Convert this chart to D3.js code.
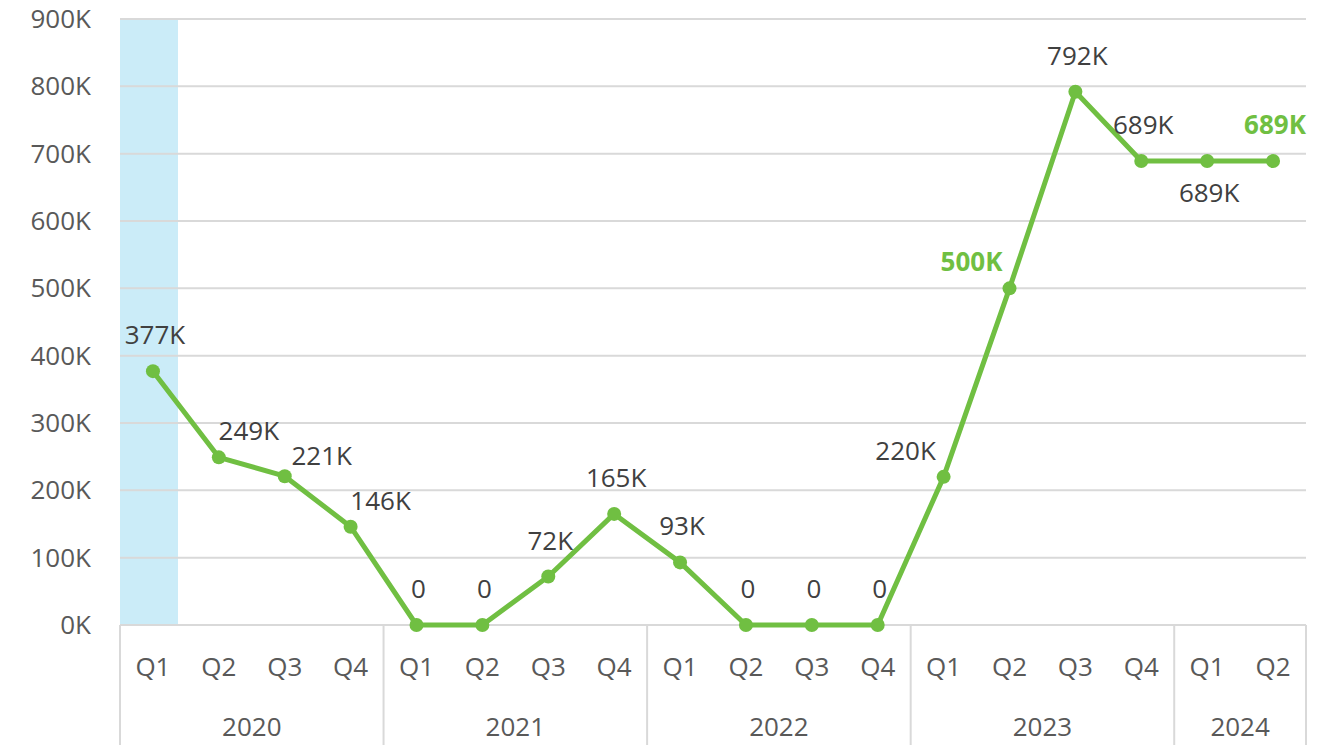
<!DOCTYPE html>
<html>
<head>
<meta charset="utf-8">
<script src="https://cdn.jsdelivr.net/npm/d3@7"></script>
<style>
  body { margin: 0; background: #fff; }
  text { font-family: "Open Sans", sans-serif; }
</style>
</head>
<body>
<div id="app"></div>
<script>
const years = ["2020", "2021", "2022", "2023", "2024"]
const quarters = ["Q1","Q2","Q3","Q4","Q1","Q2","Q3","Q4","Q1","Q2","Q3","Q4","Q1","Q2","Q3","Q4","Q1","Q2"]
const yearOf = [0,0,0,0,1,1,1,1,2,2,2,2,3,3,3,3,4,4]
const values = [377, 249, 221, 146, 0, 0, 72, 165, 93, 0, 0, 0, 220, 500, 792, 689, 689, 689]
const labels = ["377K","249K","221K","146K","0","0","72K","165K","93K","0","0","0","220K","500K","792K","689K","689K","689K"]
const boldLabels = [13, 17]
const yTicks = [0, 100, 200, 300, 400, 500, 600, 700, 800, 900]

// where each data label sits relative to its point
const labelPos = ["above","aboveRight","right","aboveRight","above","above","above","above","above","above","above","above","aboveLeft","aboveLeft","above","above","below","above"]

const w = 1337, h = 745
const mLeft = 120, mRight = 1306, mTop = 19, mBottom = 625
const green = "#70bf42"
const grey = "#595959"

const svg = d3.select("#app").append("svg")
    .attr("width", w)
    .attr("height", h)

const keys = quarters.map((q, i) => i)
const x = d3.scaleBand().domain(keys).range([mLeft, mRight])
const y = d3.scaleLinear().domain([0, 900]).range([mBottom, mTop])

// highlight band Q1 2020
svg.append("rect")
    .attr("x", x(0))
    .attr("y", y(900))
    .attr("width", x.bandwidth() * 0.88)
    .attr("height", y(0) - y(900))
    .attr("fill", "#cbecf8")

// gridlines
svg.append("g")
    .selectAll("line")
    .data(yTicks.filter(d => d > 0))
    .join("line")
    .attr("x1", mLeft).attr("x2", mRight)
    .attr("y1", d => y(d)).attr("y2", d => y(d))
    .attr("stroke", "#d9d9d9")
    .attr("stroke-width", 2)

// y labels
svg.append("g")
    .selectAll("text")
    .data(yTicks)
    .join("text")
    .attr("x", 91)
    .attr("y", d => y(d))
    .attr("dy", "0.35em")
    .attr("text-anchor", "end")
    .attr("font-size", 26)
    .attr("fill", grey)
    .text(d => d + "K")

// category axis with year groups
const axis = svg.append("g")
axis.append("line")
    .attr("x1", mLeft).attr("x2", mRight)
    .attr("y1", mBottom).attr("y2", mBottom)
    .attr("stroke", "#d9d9d9").attr("stroke-width", 2)

const groupBounds = years.map((yr, gi) => {
    const idx = keys.filter(i => yearOf[i] === gi)
    return [x(idx[0]), x(idx[idx.length - 1]) + x.bandwidth()]
})
const seps = [mLeft, ...groupBounds.map(b => b[1])]
axis.selectAll(".sep")
    .data(seps)
    .join("line")
    .attr("x1", d => d).attr("x2", d => d)
    .attr("y1", mBottom).attr("y2", h)
    .attr("stroke", "#d9d9d9").attr("stroke-width", 2)

axis.selectAll(".q")
    .data(keys)
    .join("text")
    .attr("x", i => x(i) + x.bandwidth() / 2)
    .attr("y", 667)
    .attr("dy", "0.35em")
    .attr("text-anchor", "middle")
    .attr("font-size", 26)
    .attr("fill", grey)
    .text(i => quarters[i])

axis.selectAll(".yr")
    .data(years)
    .join("text")
    .attr("x", (d, gi) => (groupBounds[gi][0] + groupBounds[gi][1]) / 2)
    .attr("y", 727)
    .attr("dy", "0.35em")
    .attr("text-anchor", "middle")
    .attr("font-size", 26)
    .attr("fill", grey)
    .text(d => d)

// line
const cx = i => x(i) + x.bandwidth() / 2
const line = d3.line().x((d, i) => cx(i)).y(d => y(d))
svg.append("path")
    .datum(values)
    .attr("d", line)
    .attr("fill", "none")
    .attr("stroke", green)
    .attr("stroke-width", 5)
    .attr("stroke-linejoin", "round")

svg.append("g")
    .selectAll("circle")
    .data(values)
    .join("circle")
    .attr("cx", (d, i) => cx(i))
    .attr("cy", d => y(d))
    .attr("r", 7)
    .attr("fill", green)

const offsets = {
    above: [2, -36],
    below: [2, 32],
    aboveRight: [30, -26],
    right: [37, -20],
    aboveLeft: [-38, -26]
}
svg.append("g")
    .selectAll("text")
    .data(values)
    .join("text")
    .attr("x", (d, i) => cx(i) + offsets[labelPos[i]][0])
    .attr("y", (d, i) => y(d) + offsets[labelPos[i]][1])
    .attr("dy", "0.35em")
    .attr("text-anchor", "middle")
    .attr("font-size", 26)
    .attr("font-weight", (d, i) => boldLabels.includes(i) ? "bold" : "normal")
    .attr("fill", (d, i) => boldLabels.includes(i) ? green : "#404040")
    .text((d, i) => labels[i])
</script>
</body>
</html>
